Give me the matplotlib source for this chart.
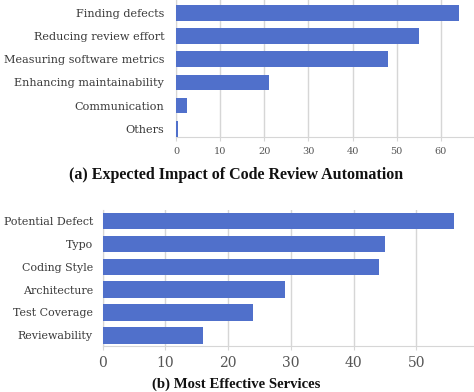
import matplotlib.pyplot as plt

# (a) expected impact
impact_labels = ["Finding defects", "Reducing review effort", "Measuring software metrics",
                 "Enhancing maintainability", "Communication", "Others"]
impact_values = [64, 55, 48, 21, 2.5, 0.5]

# (b) most effective services
service_labels = ["Potential Defect", "Typo", "Coding Style", "Architecture",
                  "Test Coverage", "Reviewability"]
service_values = [56, 45, 44, 29, 24, 16]

bar_color = "#5070cb"
grid_color = "#d6d6d6"
text_color = "#3a3a3a"

plt.rcParams["font.family"] = "DejaVu Serif"

fig = plt.figure(figsize=(4.74, 3.92), dpi=100)
ax1 = fig.add_axes([0.3713, 0.6505, 0.627, 0.3495])
ax2 = fig.add_axes([0.2167, 0.1173, 0.781, 0.3470])


def draw(ax, labels, values, xmax, height, ylim):
    ax.barh(range(len(labels)), values, height=height, color=bar_color, zorder=3)
    ax.set_yticks(range(len(labels)))
    ax.set_yticklabels(labels)
    ax.set_ylim(*ylim)
    ax.set_xlim(0, xmax)
    ax.grid(axis="x", color=grid_color, linewidth=1, zorder=0)
    for s in ["top", "right"]:
        ax.spines[s].set_visible(False)
    ax.spines["left"].set_color(grid_color)
    ax.spines["bottom"].set_color(grid_color)
    ax.tick_params(axis="y", length=0, pad=8.5, colors=text_color)
    ax.tick_params(axis="x", length=3, color=grid_color, colors="#555555", pad=4)


draw(ax1, impact_labels, impact_values, 67.3, 0.68, (5.36, -0.56))
ax1.set_xticks(range(0, 61, 10))
ax1.tick_params(axis="y", labelsize=8.1)
ax1.tick_params(axis="x", labelsize=7)

draw(ax2, service_labels, service_values, 59, 0.72, (5.47, -0.49))
ax2.set_xticks(range(0, 51, 10))
ax2.tick_params(axis="y", labelsize=7.9, pad=7)
ax2.tick_params(axis="x", labelsize=10)

fig.text(0.499, 0.5536, "(a) Expected Impact of Code Review Automation",
         ha="center", va="center", fontsize=11.5, fontweight="bold",
         family="Liberation Serif", color="#111111")
fig.text(0.499, 0.0204, "(b) Most Effective Services",
         ha="center", va="center", fontsize=10.6, fontweight="bold",
         family="Liberation Serif", color="#111111")

fig.savefig("out.png", dpi=100)
